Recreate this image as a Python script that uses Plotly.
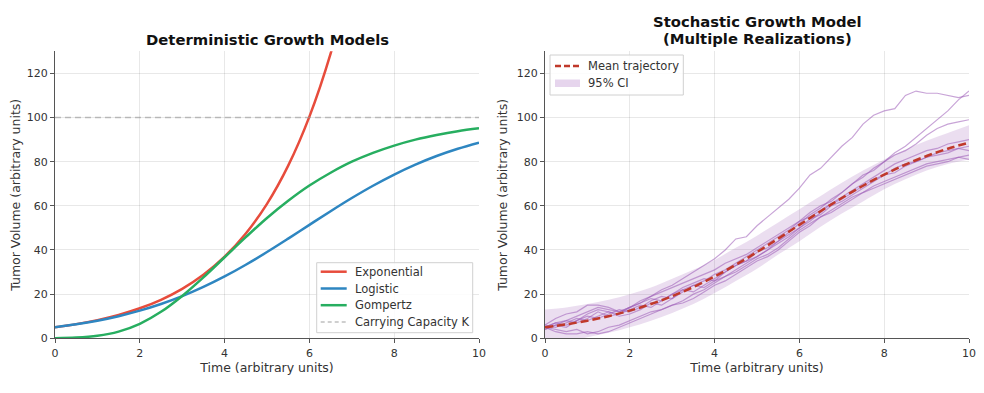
import plotly.graph_objects as go

# ---------------- data ----------------
t_det = [0, 0.5, 1, 1.5, 2, 2.5, 3, 3.5, 4, 4.5, 5, 5.5, 6, 6.5, 7, 7.5, 8, 8.5, 9, 9.5, 10]
exponential = [5, 6.42, 8.24, 10.59, 13.59, 17.45, 22.41, 28.77, 36.95, 47.44, 60.91, 78.22, 100.43, 128.96, 165.6]
logistic = [5, 6.33, 7.98, 10.03, 12.52, 15.52, 19.08, 23.25, 28.0, 33.31, 39.07, 45.15, 51.39, 57.57,
            63.54, 69.11, 74.18, 78.68, 82.58, 85.88, 88.65]
gompertz = [0.06, 0.31, 1.12, 3.03, 6.57, 12.0, 19.2, 27.6, 36.7, 45.8, 54.5, 62.3, 69.2, 75.0,
            80.0, 84.0, 87.3, 90.0, 92.1, 93.8, 95.1]
capacity_x = [0, 10]
capacity_y = [100, 100]

t_sto = [i * 0.25 for i in range(41)]
realizations = [
    [5, 7, 8, 10, 12, 14, 13, 12, 14, 16, 19, 22, 24, 27, 30, 33, 36, 40, 45, 46, 51, 55, 59, 63, 68, 74, 77, 82, 87, 91, 97, 101, 103, 104, 110, 112, 111, 111, 110, 109, 110],
    [6, 5, 7, 9, 8, 10, 12, 11, 13, 15, 14, 17, 20, 22, 21, 24, 27, 30, 33, 35, 39, 41, 44, 48, 52, 56, 59, 63, 66, 70, 73, 77, 80, 84, 87, 91, 95, 99, 103, 108, 112],
    [4, 6, 5, 8, 10, 9, 11, 13, 12, 14, 17, 19, 18, 21, 24, 26, 29, 31, 34, 37, 40, 43, 46, 49, 53, 57, 60, 62, 66, 70, 74, 76, 80, 83, 85, 88, 92, 95, 97, 98, 99],
    [5, 3, 2, 2, 3, 2, 3, 5, 7, 9, 11, 13, 15, 17, 20, 22, 25, 28, 31, 34, 37, 40, 44, 47, 50, 53, 57, 61, 64, 67, 70, 73, 76, 79, 81, 83, 85, 86, 88, 89, 90],
    [6, 9, 11, 12, 15, 15, 14, 12, 14, 17, 19, 21, 23, 25, 27, 29, 31, 34, 36, 38, 41, 44, 47, 50, 53, 55, 58, 61, 63, 66, 69, 72, 74, 77, 79, 80, 82, 84, 85, 86, 87],
    [5, 4, 3, 4, 2, 3, 5, 6, 8, 10, 12, 13, 15, 16, 18, 21, 24, 26, 29, 32, 35, 37, 40, 44, 48, 51, 55, 58, 61, 64, 66, 69, 71, 73, 75, 77, 79, 80, 81, 82, 83],
    [4, 6, 8, 7, 9, 12, 10, 11, 14, 16, 18, 17, 20, 23, 25, 27, 26, 30, 33, 35, 37, 40, 43, 46, 50, 54, 56, 60, 62, 65, 68, 71, 74, 75, 78, 80, 82, 83, 84, 86, 85],
    [5, 7, 6, 8, 11, 13, 12, 10, 11, 13, 16, 15, 18, 22, 24, 23, 26, 28, 30, 33, 36, 38, 41, 45, 49, 52, 55, 57, 60, 63, 66, 68, 70, 72, 74, 76, 78, 79, 80, 82, 81],
]
mean_traj = logistic
ci_upper = [13, 14, 15.5, 17.5, 20, 23, 27, 31, 35.5, 41, 46.5, 52.5, 58.5, 64.5, 70.5, 76, 81, 85.5, 89.5, 93, 96.5]
ci_lower = [-3, -1.5, 0.5, 2.5, 5, 8, 11.5, 15.5, 20.5, 26, 31.5, 38, 44, 50.5, 56.5, 62, 67.5, 72, 76, 79, 81]

x_ticks = [0, 2, 4, 6, 8, 10]
y_ticks = [0, 20, 40, 60, 80, 100, 120]

left_legend_labels = ["Exponential", "Logistic", "Gompertz", "Carrying Capacity K"]
right_legend_labels = ["Mean trajectory", "95% CI"]

# ---------------- style ----------------
# the page body has an 8px margin, so the figure is made 16px smaller and
# all layout positions (given in window pixels) are shifted by that offset
OFF = 8
WIN_W, WIN_H = 984, 393
W, H = WIN_W - 2 * OFF, WIN_H - 2 * OFF
FONT = "DejaVu Sans"
C_EXP, C_LOG, C_GOM = "#e74c3c", "#2e86c1", "#27ae60"
C_K = "rgba(150,150,150,0.6)"
C_PURPLE_LINE = "rgba(155,89,182,0.55)"
C_BAND = "rgba(155,89,182,0.2)"
C_MEAN = "#c0392b"
TXT = "#333"
TICK_SIZE = 11
LABEL_SIZE = 12.5
LEGEND_SIZE = 11.5


def px(x):
    return (x - OFF) / W


def py(y):
    return (H - (y - OFF)) / H


fig = go.Figure()

# left panel
fig.add_trace(go.Scatter(x=t_det[:len(exponential)], y=exponential, mode="lines", name=left_legend_labels[0],
                         line=dict(color=C_EXP, width=2.5, shape="spline"), xaxis="x", yaxis="y"))
fig.add_trace(go.Scatter(x=t_det, y=logistic, mode="lines", name=left_legend_labels[1],
                         line=dict(color=C_LOG, width=2.5, shape="spline"), xaxis="x", yaxis="y"))
fig.add_trace(go.Scatter(x=t_det, y=gompertz, mode="lines", name=left_legend_labels[2],
                         line=dict(color=C_GOM, width=2.5, shape="spline"), xaxis="x", yaxis="y"))
fig.add_trace(go.Scatter(x=capacity_x, y=capacity_y, mode="lines", name=left_legend_labels[3],
                         line=dict(color=C_K, width=1.5, dash="6px,4px"), xaxis="x", yaxis="y"))

# right panel
fig.add_trace(go.Scatter(x=t_det, y=ci_lower, mode="lines", line=dict(width=0, shape="spline"),
                         hoverinfo="skip", xaxis="x2", yaxis="y2"))
fig.add_trace(go.Scatter(x=t_det, y=ci_upper, mode="lines", line=dict(width=0, shape="spline"),
                         fill="tonexty", fillcolor=C_BAND, name=right_legend_labels[1],
                         xaxis="x2", yaxis="y2"))
for r in realizations:
    fig.add_trace(go.Scatter(x=t_sto, y=r, mode="lines", line=dict(color=C_PURPLE_LINE, width=1.2),
                             hoverinfo="skip", xaxis="x2", yaxis="y2"))
fig.add_trace(go.Scatter(x=t_det, y=mean_traj, mode="lines", name=right_legend_labels[0],
                         line=dict(color=C_MEAN, width=2.5, dash="8px,4px", shape="spline"),
                         xaxis="x2", yaxis="y2"))

y0, y1 = py(338.3), py(51.3)
axis_common = dict(showline=True, linecolor="#555", linewidth=1.2, ticks="outside", ticklen=4, tickcolor="#555",
                   showgrid=True, gridcolor="rgba(0,0,0,0.09)", gridwidth=1, zeroline=False, automargin=False,
                   tickfont=dict(family=FONT, size=TICK_SIZE, color=TXT), mirror=False)
xaxis_common = dict(axis_common, range=[0, 10], tickvals=x_ticks,
                    title=dict(text="Time (arbitrary units)", font=dict(family=FONT, size=LABEL_SIZE, color=TXT),
                               standoff=3))
yaxis_common = dict(axis_common, range=[0, 130], tickvals=y_ticks,
                    title=dict(text="Tumor Volume (arbitrary units)",
                               font=dict(family=FONT, size=LABEL_SIZE, color=TXT), standoff=6))

shapes = []
annotations = []

# ---- left legend (drawn manually to match matplotlib spacing) ----
shapes.append(dict(type="rect", xref="paper", yref="paper", x0=px(316.7), x1=px(472.7), y0=py(332.7), y1=py(262.7),
                   line=dict(color="#d0d0d0", width=1), fillcolor="rgba(255,255,255,0.85)", layer="above"))
left_styles = [dict(color=C_EXP, width=2.5), dict(color=C_LOG, width=2.5), dict(color=C_GOM, width=2.5),
               dict(color=C_K, width=1.5, dash="4px,3px")]
left_ys = [271.7, 288.5, 305.2, 321.9]
for lab, sty, yy in zip(left_legend_labels, left_styles, left_ys):
    shapes.append(dict(type="line", xref="paper", yref="paper", x0=px(320.7), x1=px(346.7), y0=py(yy), y1=py(yy),
                       line=sty, layer="above"))
    annotations.append(dict(text=lab, x=px(353), y=py(yy), xref="paper", yref="paper", showarrow=False,
                            xanchor="left", yanchor="middle", font=dict(family=FONT, size=LEGEND_SIZE, color=TXT)))

# ---- right legend ----
shapes.append(dict(type="rect", xref="paper", yref="paper", x0=px(550), x1=px(683.3), y0=py(95), y1=py(55),
                   line=dict(color="#d0d0d0", width=1), fillcolor="rgba(255,255,255,0.85)", layer="above"))
shapes.append(dict(type="line", xref="paper", yref="paper", x0=px(555), x1=px(580), y0=py(66), y1=py(66),
                   line=dict(color=C_MEAN, width=2.5, dash="6px,3px"), layer="above"))
shapes.append(dict(type="rect", xref="paper", yref="paper", x0=px(555), x1=px(580), y0=py(87), y1=py(79.5),
                   line=dict(width=0), fillcolor="rgba(155,89,182,0.25)", layer="above"))
annotations.append(dict(text=right_legend_labels[0], x=px(586), y=py(66), xref="paper", yref="paper",
                        showarrow=False, xanchor="left", yanchor="middle",
                        font=dict(family=FONT, size=LEGEND_SIZE, color=TXT)))
annotations.append(dict(text=right_legend_labels[1], x=px(586), y=py(83.3), xref="paper", yref="paper",
                        showarrow=False, xanchor="left", yanchor="middle",
                        font=dict(family=FONT, size=LEGEND_SIZE, color=TXT)))

# ---- titles ----
TITLE_FONT = dict(family=FONT, size=14.8, color="#111")
annotations.append(dict(text="<b>Deterministic Growth Models</b>", x=px(267), y=py(39.5), xref="paper", yref="paper",
                        showarrow=False, xanchor="center", yanchor="middle", font=TITLE_FONT))
annotations.append(dict(text="<b>Stochastic Growth Model</b>", x=px(757), y=py(21.7), xref="paper", yref="paper",
                        showarrow=False, xanchor="center", yanchor="middle", font=TITLE_FONT))
annotations.append(dict(text="<b>(Multiple Realizations)</b>", x=px(757), y=py(38.5), xref="paper", yref="paper",
                        showarrow=False, xanchor="center", yanchor="middle", font=TITLE_FONT))

fig.update_layout(
    width=W, height=H, margin=dict(l=0, r=0, t=0, b=0, autoexpand=False),
    paper_bgcolor="white", plot_bgcolor="white",
    xaxis=dict(xaxis_common, domain=[px(55), px(479)], anchor="y"),
    yaxis=dict(yaxis_common, domain=[y0, y1], anchor="x"),
    xaxis2=dict(xaxis_common, domain=[px(545), px(969)], anchor="y2"),
    yaxis2=dict(yaxis_common, domain=[y0, y1], anchor="x2"),
    shapes=shapes,
    annotations=annotations,
    showlegend=False,
)

fig.write_html("out.html")
